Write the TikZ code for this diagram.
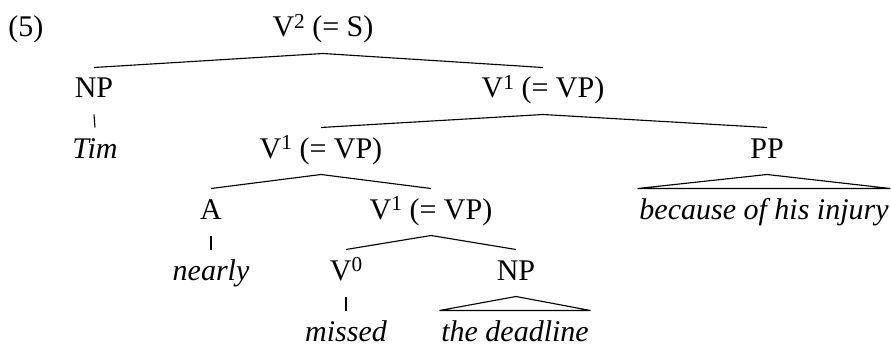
\documentclass[tikz,border=0pt]{standalone}
\usepackage{fontspec}
\setmainfont{Liberation Serif}
% bar-level superscript on a category letter
\newcommand{\barlev}[1]{\raisebox{3.3pt}{\fontsize{8.5}{10}\selectfont #1}}
\begin{document}
\begin{tikzpicture}[x=0.4pt,y=-0.4pt,
  cat/.style={font=\fontsize{12}{14}\selectfont, anchor=base,
    inner xsep=0.5pt, inner ysep=4pt, text height=8pt, text depth=2.4pt},
  word/.style={cat, font=\fontsize{12}{14}\selectfont\itshape},
  branch/.style={line width=0.45pt, line join=miter}]
\useasboundingbox (0,0) rectangle (891,346);

% example number
\node[cat, anchor=base west, inner xsep=0pt] (ex) at (8,37) {(5)};

% category labels, one row per level
\node[cat] (s)   at (323,37)  {V\barlev{2} (= S)};
\node[cat] (np1) at (94,98)   {NP};
\node[cat] (vp1) at (543,98)  {V\barlev{1} (= VP)};
\node[word] (tim) at (95,158) {Tim};
\node[cat] (vp2) at (321,158) {V\barlev{1} (= VP)};
\node[cat] (pp)  at (767,158) {PP};
\node[cat] (a)   at (211,219) {A};
\node[cat] (vp3) at (431,219) {V\barlev{1} (= VP)};
\node[word] (injury) at (764,219) {because of his injury};
\node[word] (nearly) at (211,280) {nearly};
\node[cat] (v0)  at (346,280) {V\barlev{0}};
\node[cat] (np2) at (516,280) {NP};
\node[word] (missed)   at (346,341) {missed};
\node[word] (deadline) at (515,341) {the deadline};

% branches
\draw[branch] (s.south) -- (np1.north);
\draw[branch] (s.south) -- (vp1.north);
\draw[branch] (np1.south) -- (tim.north);
\draw[branch] (vp1.south) -- (vp2.north);
\draw[branch] (vp1.south) -- (pp.north);
\draw[branch] (pp.south) -- (injury.north west) -- (injury.north east) -- cycle;
\draw[branch] (vp2.south) -- (a.north);
\draw[branch] (vp2.south) -- (vp3.north);
\draw[branch] (a.south) -- (nearly.north);
\draw[branch] (vp3.south) -- (v0.north);
\draw[branch] (vp3.south) -- (np2.north);
\draw[branch] (v0.south) -- (missed.north);
\draw[branch] (np2.south) -- (deadline.north west) -- (deadline.north east) -- cycle;
\end{tikzpicture}
\end{document}
